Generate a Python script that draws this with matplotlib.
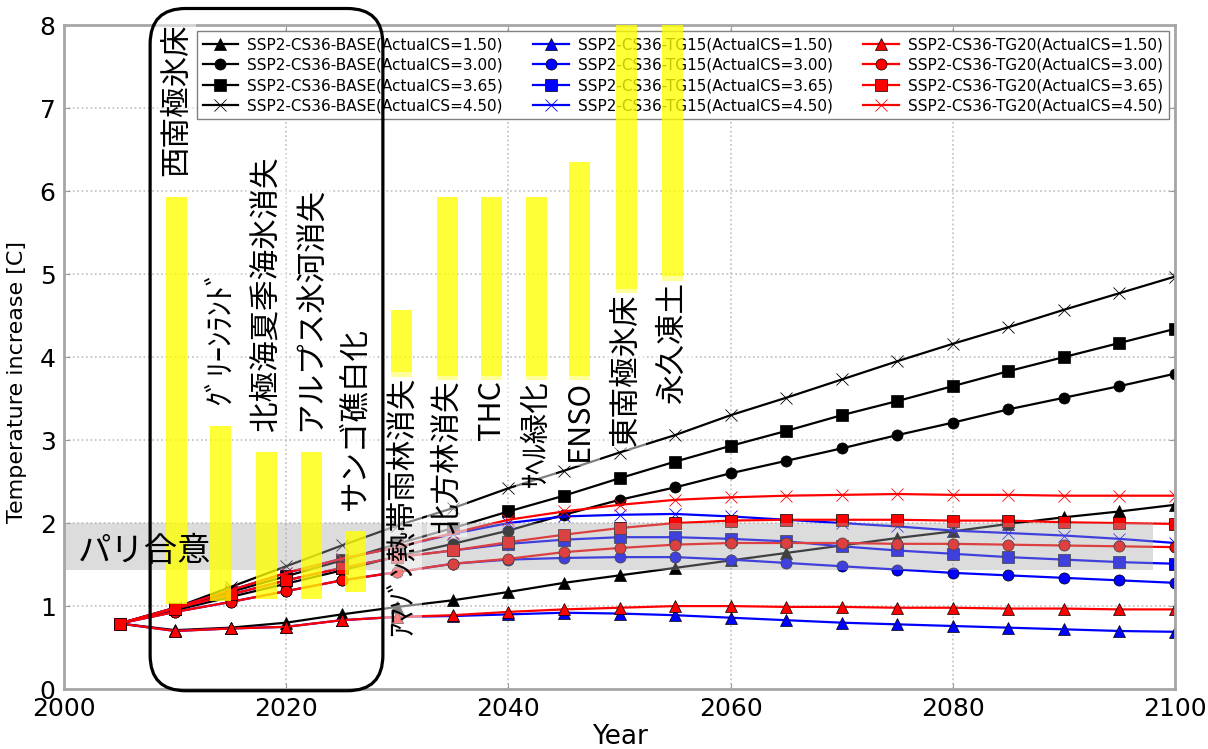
import matplotlib
matplotlib.use("Agg")
import matplotlib.pyplot as plt
from matplotlib.patches import FancyBboxPatch

plt.rcParams["font.family"] = ["DejaVu Sans", "Noto Sans CJK JP"]
JP = ["Noto Sans CJK JP", "DejaVu Sans"]

years = [2005, 2010, 2015, 2020, 2025, 2030, 2035, 2040, 2045, 2050,
         2055, 2060, 2065, 2070, 2075, 2080, 2085, 2090, 2095, 2100]

# warming paths [C] per scenario and actual climate sensitivity
base_150 = [0.79, 0.71, 0.74, 0.80, 0.90, 0.99, 1.07, 1.17, 1.28, 1.37,
            1.46, 1.55, 1.64, 1.73, 1.82, 1.90, 1.99, 2.07, 2.14, 2.22]
base_300 = [0.79, 0.95, 1.11, 1.27, 1.43, 1.60, 1.75, 1.91, 2.10, 2.28,
            2.43, 2.60, 2.75, 2.90, 3.06, 3.21, 3.37, 3.51, 3.65, 3.80]
base_365 = [0.79, 0.97, 1.17, 1.36, 1.55, 1.75, 1.94, 2.14, 2.33, 2.54,
            2.74, 2.93, 3.11, 3.30, 3.47, 3.65, 3.83, 4.00, 4.17, 4.34]
base_450 = [0.79, 0.98, 1.23, 1.48, 1.73, 1.97, 2.18, 2.42, 2.63, 2.85,
            3.06, 3.30, 3.51, 3.73, 3.95, 4.16, 4.36, 4.57, 4.77, 4.97]

tg15_150 = [0.79, 0.70, 0.73, 0.75, 0.83, 0.87, 0.88, 0.90, 0.92, 0.91,
            0.89, 0.86, 0.83, 0.80, 0.78, 0.76, 0.74, 0.72, 0.70, 0.69]
tg15_300 = [0.79, 0.93, 1.05, 1.18, 1.31, 1.41, 1.51, 1.56, 1.58, 1.59,
            1.59, 1.56, 1.52, 1.48, 1.44, 1.40, 1.37, 1.34, 1.31, 1.28]
tg15_365 = [0.79, 0.97, 1.14, 1.31, 1.46, 1.59, 1.67, 1.75, 1.80, 1.83,
            1.83, 1.81, 1.78, 1.72, 1.67, 1.63, 1.59, 1.56, 1.53, 1.51]
tg15_450 = [0.79, 0.98, 1.19, 1.40, 1.57, 1.71, 1.87, 2.00, 2.08, 2.10,
            2.11, 2.08, 2.04, 2.00, 1.96, 1.91, 1.88, 1.85, 1.81, 1.76]

tg20_150 = [0.79, 0.70, 0.73, 0.75, 0.83, 0.87, 0.89, 0.93, 0.96, 0.98,
            1.00, 1.00, 0.99, 0.99, 0.98, 0.98, 0.97, 0.97, 0.96, 0.96]
tg20_300 = [0.79, 0.93, 1.05, 1.18, 1.31, 1.41, 1.51, 1.57, 1.65, 1.70,
            1.74, 1.76, 1.76, 1.76, 1.75, 1.75, 1.74, 1.73, 1.72, 1.71]
tg20_365 = [0.79, 0.97, 1.14, 1.31, 1.46, 1.59, 1.67, 1.77, 1.86, 1.94,
            2.00, 2.03, 2.04, 2.04, 2.04, 2.03, 2.03, 2.01, 2.00, 1.99]
tg20_450 = [0.79, 0.98, 1.19, 1.40, 1.57, 1.71, 1.88, 2.04, 2.14, 2.22,
            2.28, 2.31, 2.33, 2.34, 2.35, 2.34, 2.34, 2.33, 2.33, 2.33]

scenarios = ["BASE", "TG15", "TG20"]
scenario_colors = ["black", "blue", "red"]
cs_values = ["1.50", "3.00", "3.65", "4.50"]
cs_markers = ["^", "o", "s", "x"]
series = [
    [base_150, base_300, base_365, base_450],
    [tg15_150, tg15_300, tg15_365, tg15_450],
    [tg20_150, tg20_300, tg20_365, tg20_450],
]

# tipping elements: temperature ranges [C]
tip_names = ["西南極氷床", "ｸﾞﾘｰﾝﾗﾝﾄﾞ", "北極海夏季海氷消失", "アルプス氷河消失",
             "サンゴ礁白化", "ｱﾏｿﾞﾝ熱帯雨林消失", "北方林消失", "THC", "ｻﾍﾙ緑化",
             "ENSO", "東南極氷床", "永久凍土"]
tip_x = [2010.1, 2014.1, 2018.2, 2022.3, 2026.2, 2030.4,
         2034.5, 2038.5, 2042.5, 2046.4, 2050.6, 2054.8]
tip_low = [1.03, 1.06, 1.08, 1.08, 1.17, 3.76, 3.72, 3.72, 3.72, 3.72, 4.77, 4.92]
tip_high = [5.93, 3.17, 2.86, 2.86, 1.91, 4.57, 5.93, 5.93, 5.93, 6.35, 8.5, 8.5]
tip_label_above = [True, True, True, True, True,
                   False, False, False, False, False, False, False]

paris_low, paris_high = 1.43, 2.0
paris_end = 2098

fig = plt.figure(figsize=(12.08, 7.49), dpi=100)
ax_rect = [0.053, 0.080, 0.9197, 0.8865]
ax = fig.add_axes(ax_rect)

for sc, col, group in zip(scenarios, scenario_colors, series):
    for cs, mk, vals in zip(cs_values, cs_markers, group):
        filled = mk != "x"
        ax.plot(years, vals, color=col, lw=1.6, marker=mk,
                markersize=8 if filled else 9,
                markeredgecolor="k" if filled else col,
                markeredgewidth=0.5 if filled else 0.6,
                label=f"SSP2-CS36-{sc}(ActualCS={cs})", zorder=2)

# Paris agreement band
ax.fill_between([2000, paris_end], paris_low, paris_high,
                color="0.65", alpha=0.39, lw=0, zorder=3)
ax.text(2001.2, (paris_low + paris_high) / 2 - 0.06, "パリ合意",
        family=JP, fontsize=24, ha="left", va="center", zorder=7)

# tipping element ranges
heights = [h - l for l, h in zip(tip_low, tip_high)]
ax.bar(tip_x, heights, bottom=tip_low, width=1.9, color="yellow",
       alpha=0.78, lw=0, zorder=6)
for name, x, lo, hi, above in zip(tip_names, tip_x, tip_low, tip_high,
                                  tip_label_above):
    if above:
        y, va = hi + 0.25, "bottom"
    else:
        y, va = lo, "top"
    ax.text(x, y, name, family=JP, fontsize=22, rotation=90,
            ha="center", va=va, zorder=7,
            bbox=dict(boxstyle="square,pad=0.15", fc="white", ec="none",
                      alpha=0.5))

ax.set_xlim(2000, 2100)
ax.set_ylim(0, 8)
ax.set_xticks([2000, 2020, 2040, 2060, 2080, 2100])
ax.set_yticks(range(0, 9))
ax.tick_params(labelsize=18, direction="in", length=4, color="0.6",
               top=True, right=True, pad=6)
ax.grid(True, color="0.75", linestyle=":", linewidth=1.2)
for sp in ax.spines.values():
    sp.set_color("0.65")
    sp.set_linewidth(2)
ax.set_xlabel("Year", fontsize=19)
ax.set_ylabel("Temperature increase [C]", fontsize=16)
ax.xaxis.set_label_coords(0.5, -0.052)
ax.yaxis.set_label_coords(-0.033, 0.462)

leg = ax.legend(ncol=3, loc="upper right", fontsize=11, labelspacing=0.35,
                handlelength=2.3, handletextpad=0.6, columnspacing=2.0,
                borderaxespad=0.4, fancybox=False, framealpha=1)
leg.get_frame().set_edgecolor("0.5")
leg.set_zorder(5)

# highlight box around the near-term tipping elements
fw, fh = fig.get_size_inches() * fig.dpi
px_per_year = ax_rect[2] * fw / 100
px_per_unit = ax_rect[3] * fh / 8
box = FancyBboxPatch((2007.75, -0.02), 20.95, 8.22,
                     boxstyle="round,pad=0,rounding_size=3.2",
                     mutation_aspect=px_per_year / px_per_unit,
                     fc="none", ec="black", lw=2.3, clip_on=False, zorder=8)
ax.add_patch(box)

fig.savefig("out.png", dpi=100, facecolor="white")
